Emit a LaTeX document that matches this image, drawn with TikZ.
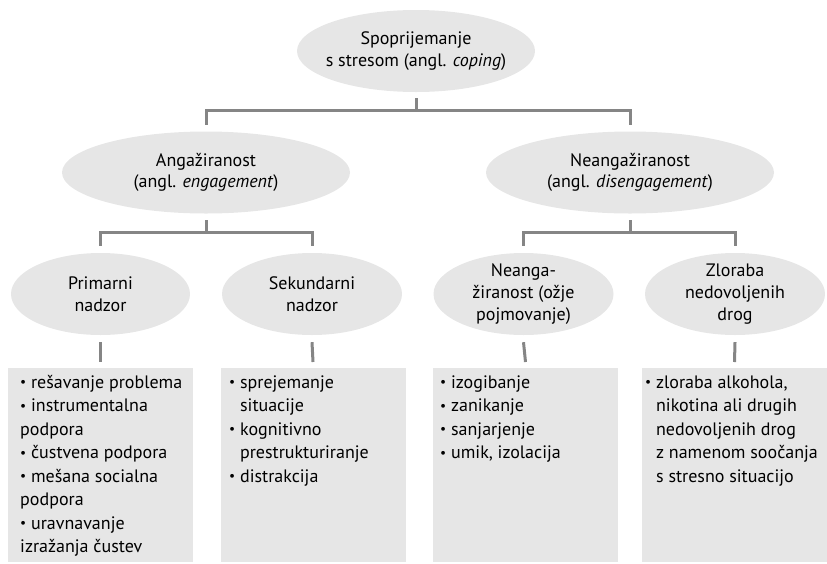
\documentclass[tikz,border=0pt]{standalone}
\usepackage{fontspec}
\setmainfont{PT Sans}
\usepackage{graphicx}
\usepackage[HTML]{xcolor}
\usepackage{tikz}
\usetikzlibrary{positioning, shapes.geometric}
\definecolor{bubblegray}{HTML}{E6E6E6}
\definecolor{linkgray}{HTML}{858585}
\newcommand{\bul}{\raisebox{0.12ex}{\scalebox{0.75}{\textbullet}}\ }
\newcommand{\cont}{\hphantom{\bul}}

\begin{document}
\begin{tikzpicture}[x=1pt,y=-1pt,
  bubble/.style={ellipse, fill=bubblegray, inner sep=-16pt, align=center,
    minimum height=82pt, font=\fontsize{18}{21.7}\selectfont},
  listbox/.style={rectangle, fill=bubblegray, anchor=north, inner sep=0pt,
    minimum width=185pt, minimum height=194pt},
  listtext/.style={anchor=base west, inner sep=0pt,
    font=\fontsize{18}{23.5}\selectfont},
  link/.style={draw=linkgray, line width=3pt}]
\useasboundingbox (0,0) rectangle (827,563);

% ellipses
\node[bubble, minimum width=238pt] (coping) at (416,51) {Spoprijemanje\\s stresom (angl. \textit{coping})};
\node[bubble, minimum width=288pt] (eng) at (206,172.5) {Angažiranost\\(angl. \textit{engagement})};
\node[bubble, minimum width=288pt] (dis) at (630,172.5) {Neangažiranost\\(angl. \textit{disengagement})};
\node[bubble, minimum width=179pt] (prim) at (100.5,294) {Primarni\\nadzor};
\node[bubble, minimum width=180pt] (sek) at (312,294) {Sekundarni\\nadzor};
\node[bubble, minimum width=180pt] (neo) at (523.5,294) {Neanga-\\žiranost (ožje\\pojmovanje)};
\node[bubble, minimum width=180pt] (zlo) at (735,294) {Zloraba\\nedovoljenih\\drog};

% boxes
\node[listbox] (primbox) at (100.5,368) {};
\node[listbox] (sekbox) at (313,368) {};
\node[listbox] (neobox) at (525.5,368) {};
\node[listbox] (zlobox) at (734.5,368) {};

\node[listtext] (primlist) at (20,388) {\parbox[t]{170pt}{\raggedright
  \bul rešavanje problema\\
  \bul instrumentalna\\
  podpora\\
  \bul čustvena podpora\\
  \bul mešana socialna\\
  podpora\\
  \bul uravnavanje\\
  izražanja čustev}};
\node[listtext] (seklist) at (229,388) {\parbox[t]{170pt}{\raggedright
  \bul sprejemanje\\
  \cont situacije\\
  \bul kognitivno\\
  \cont prestrukturiranje\\
  \bul distrakcija}};
\node[listtext] (neolist) at (440,388) {\parbox[t]{170pt}{\raggedright
  \bul izogibanje\\
  \bul zanikanje\\
  \bul sanjarjenje\\
  \bul umik, izolacija}};
\node[listtext] (zlolist) at (645,388) {\parbox[t]{180pt}{\raggedright
  \bul zloraba alkohola,\\
  \cont nikotina ali drugih\\
  \cont nedovoljenih drog\\
  \cont z namenom soočanja\\
  \cont s stresno situacijo}};

% connectors
\draw[link] ([yshift=-6pt]coping.south) -- ++(0,12) coordinate (j0);
\draw[link] ([yshift=6.5pt]eng.north) |- (j0) -| ([yshift=6.5pt]dis.north);
\draw[link] ([yshift=-6.5pt]eng.south) -- ++(0,12) coordinate (j1);
\draw[link] ([yshift=7pt]prim.north) |- (j1) -| ([yshift=7pt]sek.north);
\draw[link] ([yshift=-6.5pt]dis.south) -- ++(0,12) coordinate (j2);
\draw[link] ([yshift=7pt]neo.north) |- (j2) -| ([yshift=7pt]zlo.north);
\draw[link] ([yshift=-7pt]prim.south) -- ([yshift=6pt]primbox.north);
\draw[link] ([yshift=-7pt]sek.south) -- ([yshift=6pt]sekbox.north);
\draw[link] ([yshift=-7pt]neo.south) -- ([yshift=6pt]neobox.north);
\draw[link] ([yshift=-7pt]zlo.south) -- ([yshift=6pt]zlobox.north);
\end{tikzpicture}
\end{document}
